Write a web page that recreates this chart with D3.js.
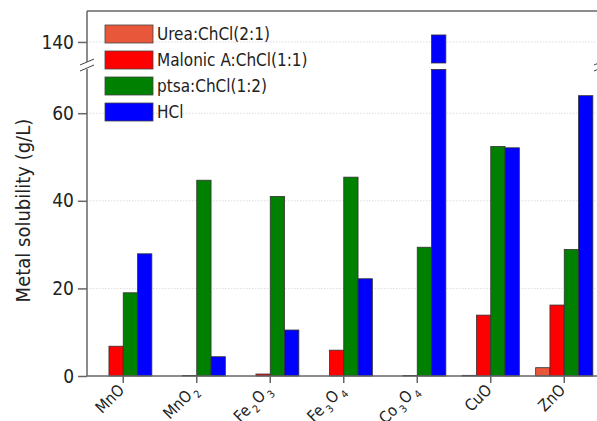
<!DOCTYPE html>
<html lang="en">
<head>
  <meta charset="UTF-8">
  <title>Metal solubility</title>
  <style>
    body { margin: 0; background: #fff; }
    text { font-family: "Liberation Sans Narrow", "DejaVu Sans Condensed", "Noto Sans", sans-serif; fill: #222; }
  </style>
</head>
<body>
  <svg id="svg" width="597" height="421"></svg>
  <script src="https://d3js.org/d3.v7.min.js"></script>
  <script>
    // chart data ("_" marks a subscript digit)
    const categories = ['MnO', 'MnO_2', 'Fe_2O_3', 'Fe_3O_4', 'Co_3O_4', 'CuO', 'ZnO']
    const seriesNames = ['Urea:ChCl(2:1)', 'Malonic A:ChCl(1:1)', 'ptsa:ChCl(1:2)', 'HCl']
    const urea = [0, 0, 0, 0, 0, 0.15, 1.9]
    const malonic = [6.8, 0.1, 0.45, 5.9, 0.1, 13.9, 16.2]
    const ptsa = [19.0, 44.7, 41.0, 45.4, 29.4, 52.4, 28.9]
    const hcl = [27.9, 4.4, 10.5, 22.2, 141.6, 52.1, 64.0]
    const lowerTicks = [0, 20, 40, 60]
    const upperTicks = [140]

    const colors = ['#e9573b', '#ff0000', '#008000', '#0000ff']
    const series = [urea, malonic, ptsa, hcl]

    const margin = { top: 11, right: -4, bottom: 45, left: 87 }
    const width = 597 - margin.left - margin.right
    const height = 421 - margin.top - margin.bottom
    const bottom = margin.top + height

    // broken y axis: lower part 0-70, upper part 135-147
    const yLow = d3.scaleLinear().domain([0, 70]).range([bottom, 69.4])
    const yHigh = d3.scaleLinear().domain([135.2, 147]).range([63, 11.3])
    const lowMax = 70

    const x0 = d3.scaleBand()
      .domain(categories)
      .range([margin.left - 0.5, margin.left - 0.5 + 7 * 73.5])
    const x1 = d3.scaleBand()
      .domain(d3.range(4))
      .range([x0.bandwidth() / 2 - 28.6, x0.bandwidth() / 2 + 28.6])

    const svg = d3.select('#svg')

    // grid lines
    const grid = svg.append('g')
    grid.selectAll('line.low')
      .data(lowerTicks.slice(1))
      .enter().append('line')
      .attr('x1', margin.left).attr('x2', margin.left + width)
      .attr('y1', d => yLow(d)).attr('y2', d => yLow(d))
      .attr('stroke', '#ddd').attr('stroke-dasharray', '1.5,1.5')
    grid.selectAll('line.high')
      .data(upperTicks)
      .enter().append('line')
      .attr('x1', margin.left).attr('x2', margin.left + width)
      .attr('y1', d => yHigh(d)).attr('y2', d => yHigh(d))
      .attr('stroke', '#ddd').attr('stroke-dasharray', '1.5,1.5')

    // bars
    const rows = []
    categories.forEach((c, i) => {
      series.forEach((s, j) => rows.push({ cat: c, k: j, value: s[i] }))
    })
    const barGroup = svg.append('g')
    const visible = rows.filter(d => d.value > 0)
    barGroup.selectAll('rect.low')
      .data(visible)
      .enter().append('rect')
      .attr('x', d => x0(d.cat) + x1(d.k))
      .attr('width', x1.bandwidth())
      .attr('y', d => yLow(Math.min(d.value, lowMax)))
      .attr('height', d => bottom - yLow(Math.min(d.value, lowMax)))
      .attr('fill', d => colors[d.k])
      .attr('stroke', '#333').attr('stroke-width', 0.8)
    barGroup.selectAll('rect.high')
      .data(visible.filter(d => d.value > lowMax))
      .enter().append('rect')
      .attr('x', d => x0(d.cat) + x1(d.k))
      .attr('width', x1.bandwidth())
      .attr('y', d => yHigh(d.value))
      .attr('height', d => yHigh.range()[0] - yHigh(d.value))
      .attr('fill', d => colors[d.k])
      .attr('stroke', '#333').attr('stroke-width', 0.8)

    // frame
    const frame = svg.append('g').attr('stroke', '#666').attr('stroke-width', 1.5).attr('fill', 'none')
    frame.append('line').attr('x1', margin.left).attr('x2', margin.left + width).attr('y1', margin.top).attr('y2', margin.top)
    frame.append('line').attr('x1', margin.left).attr('x2', margin.left + width).attr('y1', bottom).attr('y2', bottom)
    frame.append('line').attr('x1', margin.left).attr('x2', margin.left).attr('y1', margin.top).attr('y2', 62)
    frame.append('line').attr('x1', margin.left).attr('x2', margin.left).attr('y1', 69).attr('y2', bottom)

    // axis break marks
    const brk = svg.append('g').attr('stroke', '#444').attr('stroke-width', 1)
    ;[margin.left, margin.left + width].forEach(bx => {
      brk.append('line').attr('x1', bx - 7).attr('y1', 65).attr('x2', bx + 7).attr('y2', 59)
      brk.append('line').attr('x1', bx - 7).attr('y1', 71).attr('x2', bx + 7).attr('y2', 65)
    })

    // y axes
    const leftLow = d3.axisLeft(yLow).tickValues(lowerTicks).tickSize(9).tickSizeOuter(0)
    const leftHigh = d3.axisLeft(yHigh).tickValues(upperTicks).tickSize(9).tickSizeOuter(0)
    ;[leftLow, leftHigh].forEach(ax => {
      const g = svg.append('g')
        .attr('transform', `translate(${margin.left}, 0)`)
        .call(ax)
      g.select('.domain').remove()
      g.selectAll('line').attr('stroke', '#666').attr('stroke-width', 1.5)
      g.selectAll('text').attr('font-size', 19).attr('fill', '#222').attr('font-family', null).attr('dx', '-1')
    })

    // x axis ticks
    const bottomAxis = d3.axisBottom(x0).tickSize(7).tickSizeOuter(0).tickFormat(() => '')
    const xg = svg.append('g')
      .attr('transform', `translate(0, ${bottom})`)
      .call(bottomAxis)
    xg.select('.domain').remove()
    xg.selectAll('line').attr('stroke', '#666').attr('stroke-width', 1.5)

    // category labels, rotated -45, with lowered subscripts
    categories.forEach(c => {
      const t = svg.append('g')
        .attr('transform', `translate(${x0(c) + x0.bandwidth() / 2 + 2}, ${bottom + 15}) rotate(-45)`)
        .append('text')
        .attr('text-anchor', 'end')
        .attr('font-size', 16)
      let low = false
      c.split(/(_\d)/).filter(p => p).forEach(p => {
        if (p.startsWith('_')) {
          t.append('tspan').attr('font-size', 10.5).attr('dx', 2).attr('dy', low ? 0 : 5).text(p.slice(1))
          low = true
        } else {
          t.append('tspan').attr('dy', low ? -5 : 0).attr('dx', low ? 1.5 : 0).text(p)
          low = false
        }
      })
    })

    // y axis title
    svg.append('text')
      .attr('transform', `translate(30, ${(yLow(0) + yLow(60)) / 2 - 34}) rotate(-90)`)
      .attr('text-anchor', 'middle')
      .attr('font-size', 20)
      .text('Metal solubility (g/L)')

    // legend
    const legend = svg.append('g').attr('transform', 'translate(105, 25)')
    const item = legend.selectAll('g')
      .data(seriesNames)
      .enter().append('g')
      .attr('transform', (d, i) => `translate(0, ${i * 26})`)
    item.append('rect')
      .attr('width', 48).attr('height', 18)
      .attr('fill', (d, i) => colors[i])
      .attr('stroke', '#444').attr('stroke-width', 0.8)
    item.append('text')
      .attr('x', 52).attr('y', 9)
      .attr('dominant-baseline', 'central')
      .attr('font-size', 17)
      .text(d => d)
  </script>
</body>
</html>
